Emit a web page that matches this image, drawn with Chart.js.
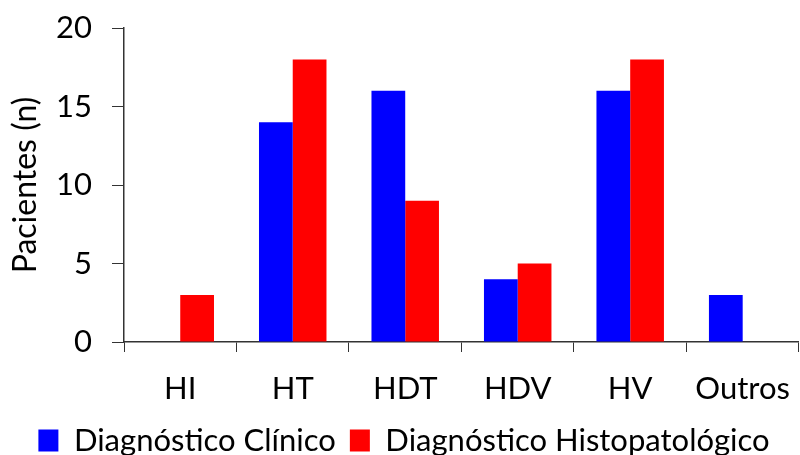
<!DOCTYPE html>
<html>
<head>
<meta charset="utf-8">
<script src="https://cdn.jsdelivr.net/npm/chart.js@4/dist/chart.umd.min.js"></script>
<style>
  html, body { margin: 0; padding: 0; overflow: hidden; background: #fff; }
  #wrap { width: 808px; height: 455px; position: relative; }
</style>
</head>
<body>
<div id="wrap"><canvas id="chart"></canvas></div>
<script>
const categories = ['HI', 'HT', 'HDT', 'HDV', 'HV', 'Outros'];
const clinico = [0, 14, 16, 4, 16, 3];
const histopatologico = [3, 18, 9, 5, 18, 0];
const seriesNames = ['Diagnóstico Clínico', 'Diagnóstico Histopatológico'];

const fontFamily = 'Lato, "Open Sans", sans-serif';

const ctx = document.getElementById('chart').getContext('2d');
new Chart(ctx, {
    type: 'bar',
    data: {
        labels: categories,
        datasets: [{
            label: seriesNames[0],
            data: clinico,
            backgroundColor: '#0000ff',
            borderWidth: 0
        }, {
            label: seriesNames[1],
            data: histopatologico,
            backgroundColor: '#ff0000',
            borderWidth: 0
        }]
    },
    options: {
        responsive: true,
        maintainAspectRatio: false,
        animation: false,
        // negative bottom padding pushes the legend row down toward the edge
        layout: { padding: { top: 28, left: 0, right: 0, bottom: -11 } },
        datasets: {
            bar: { barPercentage: 1.0, categoryPercentage: 0.6 }
        },
        scales: {
            x: {
                grid: {
                    display: true,
                    drawOnChartArea: false,
                    drawTicks: true,
                    tickLength: 10,
                    color: '#333',
                    offset: true
                },
                border: { color: '#333', width: 1.5 },
                ticks: {
                    color: '#000',
                    padding: 18,
                    font: { family: fontFamily, size: 31 }
                },
                afterFit: function (scale) { scale.height = 69; }
            },
            y: {
                min: 0,
                max: 20,
                ticks: {
                    stepSize: 5,
                    color: '#000',
                    padding: 20,
                    font: { family: fontFamily, size: 31 }
                },
                grid: {
                    display: true,
                    drawOnChartArea: false,
                    drawTicks: true,
                    tickLength: 12,
                    color: '#333'
                },
                border: { color: '#333', width: 1.5 },
                title: {
                    display: true,
                    text: 'Pacientes (n)',
                    color: '#000',
                    padding: { top: 6, bottom: 4 },
                    font: { family: fontFamily, size: 32 }
                },
                afterFit: function (scale) {
                    scale.width = 124;
                    scale.paddingTop = 0;
                    scale.paddingBottom = 0;
                }
            }
        },
        plugins: {
            legend: {
                position: 'bottom',
                labels: {
                    color: '#000',
                    boxWidth: 20,
                    boxHeight: 22,
                    padding: 14,
                    font: { family: fontFamily, size: 31 }
                }
            },
            tooltip: { enabled: false }
        }
    }
});
</script>
</body>
</html>
